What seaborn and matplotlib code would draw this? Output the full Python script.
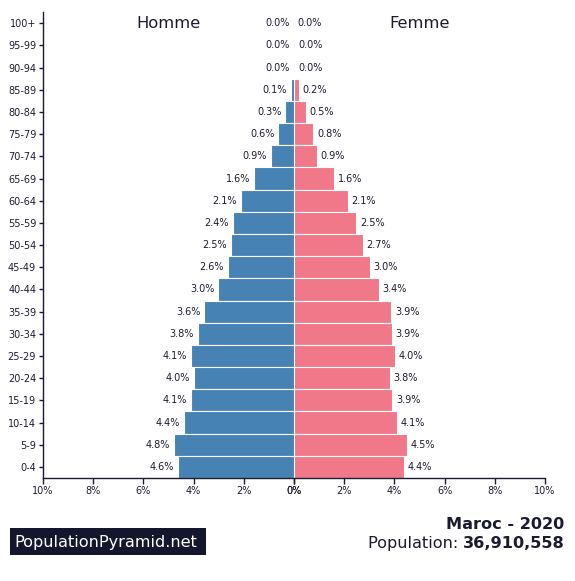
import matplotlib
matplotlib.use("Agg")
import matplotlib.pyplot as plt
from matplotlib.patches import Rectangle
import seaborn as sns
import pandas as pd

# Données : pyramide des âges, Maroc 2020 (% de la population totale)
ages = ['100+', '95-99', '90-94', '85-89', '80-84', '75-79', '70-74', '65-69',
        '60-64', '55-59', '50-54', '45-49', '40-44', '35-39', '30-34', '25-29',
        '20-24', '15-19', '10-14', '5-9', '0-4']
homme = [0.002, 0.01, 0.03, 0.12, 0.34, 0.62, 0.93, 1.58, 2.12, 2.44, 2.52,
         2.64, 3.02, 3.58, 3.84, 4.12, 3.98, 4.12, 4.38, 4.78, 4.62]
femme = [0.004, 0.015, 0.04, 0.2, 0.48, 0.77, 0.92, 1.59, 2.14, 2.48, 2.73,
         3.02, 3.38, 3.88, 3.9, 4.02, 3.82, 3.92, 4.1, 4.5, 4.38]
xticks = [0, 2, 4, 6, 8, 10]

df = pd.DataFrame({'age': ages, 'homme': homme, 'femme': femme})

sns.set_theme(style="white")
plt.rcParams['font.family'] = ['DejaVu Sans']
txt = '#1b1b2f'
blue = '#4682b4'
pink = '#f07888'

W, H = 575, 581
fig = plt.figure(figsize=(W / 100, H / 100), dpi=100)
ax_l = fig.add_axes([0.0748, 0.1773, 0.4365, 0.8017])
ax_r = fig.add_axes([0.5113, 0.1773, 0.4365, 0.8017])

sns.barplot(data=df, x='homme', y='age', orient='h', color=blue, width=1.0,
            edgecolor='white', linewidth=0.8, saturation=1, ax=ax_l)
sns.barplot(data=df, x='femme', y='age', orient='h', color=pink, width=1.0,
            edgecolor='white', linewidth=0.8, saturation=1, ax=ax_r)

ax_l.set_xlim(10, 0)
ax_r.set_xlim(0, 10)
for ax in (ax_l, ax_r):
    ax.set_ylim(len(ages) - 0.5, -0.5)
    ax.set_xlabel('')
    ax.set_ylabel('')
    ax.set_xticks(xticks)
    ax.set_xticklabels([f'{t}%' for t in xticks], fontsize=7, color=txt)
    ax.tick_params(axis='x', length=4, width=1, color=txt, pad=2, direction='out', bottom=True)
    for s in ('top', 'right', 'left'):
        ax.spines[s].set_visible(False)
    ax.spines['bottom'].set_color(txt)
    ax.spines['bottom'].set_linewidth(1)

ax_l.spines['left'].set_visible(True)
ax_l.spines['left'].set_color(txt)
ax_l.spines['left'].set_linewidth(1)
ax_l.tick_params(axis='y', length=3, width=1, color=txt, left=True, pad=2, labelsize=7, labelcolor=txt)
ax_r.set_yticks([])

# étiquettes des valeurs
for i, (h, f) in enumerate(zip(homme, femme)):
    ax_l.text(h + 0.15, i, f'{h:.1f}%', ha='right', va='center', fontsize=7, color=txt)
    ax_r.text(f + 0.15, i, f'{f:.1f}%', ha='left', va='center', fontsize=7, color=txt)

ax_l.text(0.5, 0.992, 'Homme', transform=ax_l.transAxes, ha='center', va='top',
          fontsize=11.8, color=txt)
ax_r.text(0.5, 0.992, 'Femme', transform=ax_r.transAxes, ha='center', va='top',
          fontsize=11.8, color=txt)

# pied de page
fig.add_artist(Rectangle((10 / W, 1 - 555 / H), 196 / W, 27 / H,
                         transform=fig.transFigure, facecolor='#13162c', edgecolor='none'))
fig.text(14 / W, 1 - 542 / H, 'PopulationPyramid.net', fontsize=11.6, color='white',
         ha='left', va='center')
fig.text(0.982, 1 - 529 / H, 'Maroc - 2020', fontsize=11.6, fontweight='bold', color=txt,
         ha='right', va='baseline')
t_num = fig.text(0.982, 1 - 548 / H, '36,910,558', fontsize=11.6, fontweight='bold', color=txt,
                 ha='right', va='baseline')
fig.canvas.draw()
bb = t_num.get_window_extent().transformed(fig.transFigure.inverted())
fig.text(bb.x0, 1 - 548 / H, 'Population: ', fontsize=11.6, color=txt, ha='right', va='baseline')

fig.savefig('out.png', dpi=100)
